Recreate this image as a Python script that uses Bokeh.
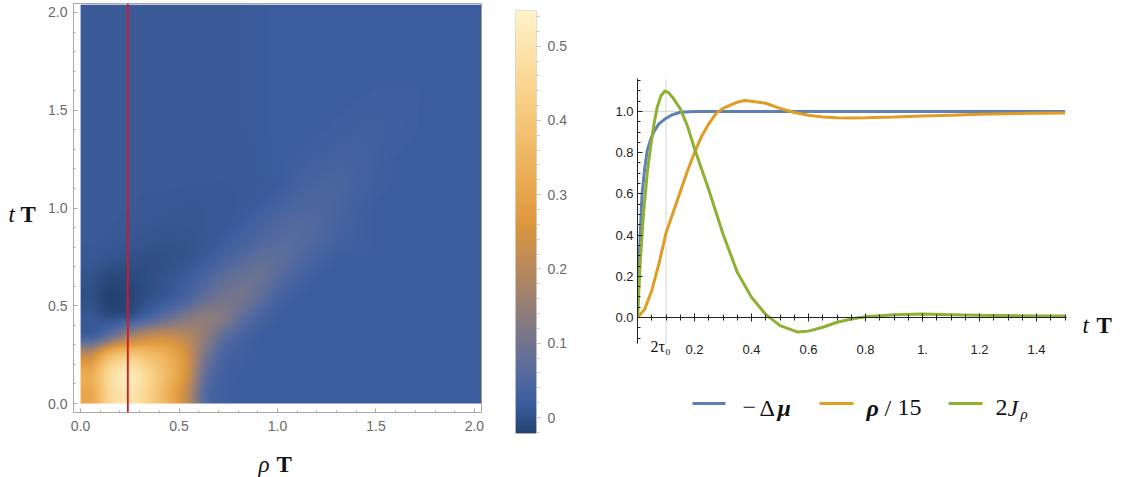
import numpy as np
from bokeh.plotting import figure
from bokeh.layouts import row, column
from bokeh.models import (LinearColorMapper, Span, Label, Range1d, FixedTicker,
                          PrintfTickFormatter, CustomJSTickFormatter, LinearAxis)
from bokeh.embed import file_html
from bokeh.resources import INLINE

# ---------------- data ----------------
# density map: rows from bottom (t ~ 0.05) to top (t ~ 2.0), columns rho ~ 0.05 .. 2.0 (step ~0.097)
heat_rho_max = 2.035
heat_t_max = 2.04
density_rows = [
    [0.30, 0.45, 0.50, 0.44, 0.34, 0.22, 0.06, 0.025, 0.02, 0.02, 0.02, 0.02, 0.02, 0.02, 0.02, 0.02, 0.02, 0.02, 0.02, 0.02, 0.02],
    [0.32, 0.46, 0.52, 0.45, 0.36, 0.25, 0.08, 0.03, 0.02, 0.02, 0.02, 0.02, 0.02, 0.02, 0.02, 0.02, 0.02, 0.02, 0.02, 0.02, 0.02],
    [0.22, 0.36, 0.41, 0.38, 0.33, 0.25, 0.11, 0.04, 0.025, 0.02, 0.02, 0.02, 0.02, 0.02, 0.02, 0.02, 0.02, 0.02, 0.02, 0.02, 0.02],
    [0.03, 0.09, 0.17, 0.22, 0.23, 0.20, 0.14, 0.07, 0.035, 0.02, 0.02, 0.02, 0.02, 0.02, 0.02, 0.02, 0.02, 0.02, 0.02, 0.02, 0.02],
    [0.012, 0.00, 0.01, 0.04, 0.08, 0.12, 0.14, 0.12, 0.07, 0.035, 0.02, 0.02, 0.02, 0.02, 0.02, 0.02, 0.02, 0.02, 0.02, 0.02, 0.02],
    [0.00, -0.02, -0.015, 0.00, 0.015, 0.04, 0.08, 0.10, 0.10, 0.065, 0.03, 0.02, 0.02, 0.02, 0.02, 0.02, 0.02, 0.02, 0.02, 0.02, 0.02],
    [0.003, -0.012, -0.01, -0.003, 0.005, 0.02, 0.045, 0.075, 0.09, 0.085, 0.055, 0.03, 0.02, 0.02, 0.02, 0.02, 0.02, 0.02, 0.02, 0.02, 0.02],
    [0.01, 0.003, 0.00, -0.003, 0.00, 0.005, 0.02, 0.04, 0.06, 0.078, 0.068, 0.048, 0.03, 0.02, 0.02, 0.02, 0.02, 0.02, 0.02, 0.02, 0.02],
    [0.015, 0.012, 0.008, 0.005, 0.003, 0.005, 0.01, 0.02, 0.035, 0.05, 0.062, 0.058, 0.045, 0.03, 0.025, 0.02, 0.02, 0.02, 0.02, 0.02, 0.02],
    [0.015, 0.015, 0.012, 0.01, 0.008, 0.008, 0.01, 0.013, 0.02, 0.035, 0.05, 0.056, 0.05, 0.035, 0.025, 0.02, 0.02, 0.02, 0.02, 0.02, 0.02],
    [0.015, 0.015, 0.015, 0.012, 0.012, 0.01, 0.01, 0.012, 0.015, 0.02, 0.033, 0.043, 0.047, 0.038, 0.028, 0.02, 0.02, 0.02, 0.02, 0.02, 0.02],
    [0.015, 0.015, 0.015, 0.015, 0.015, 0.014, 0.014, 0.014, 0.015, 0.016, 0.02, 0.032, 0.04, 0.04, 0.032, 0.024, 0.02, 0.02, 0.02, 0.02, 0.02],
    [0.015, 0.015, 0.015, 0.015, 0.015, 0.015, 0.015, 0.015, 0.015, 0.017, 0.02, 0.024, 0.031, 0.034, 0.031, 0.026, 0.02, 0.02, 0.02, 0.02, 0.02],
    [0.015, 0.015, 0.015, 0.015, 0.015, 0.015, 0.015, 0.015, 0.015, 0.017, 0.02, 0.02, 0.024, 0.029, 0.029, 0.026, 0.022, 0.02, 0.02, 0.02, 0.02],
    [0.015, 0.015, 0.015, 0.015, 0.015, 0.015, 0.015, 0.015, 0.016, 0.018, 0.02, 0.02, 0.02, 0.023, 0.026, 0.026, 0.024, 0.021, 0.02, 0.02, 0.02],
    [0.015, 0.015, 0.015, 0.015, 0.015, 0.015, 0.015, 0.015, 0.016, 0.018, 0.02, 0.02, 0.02, 0.02, 0.022, 0.024, 0.023, 0.021, 0.02, 0.02, 0.02],
    [0.015, 0.015, 0.015, 0.015, 0.015, 0.015, 0.015, 0.015, 0.016, 0.018, 0.02, 0.02, 0.02, 0.02, 0.02, 0.021, 0.021, 0.021, 0.02, 0.02, 0.02],
    [0.015, 0.015, 0.015, 0.015, 0.015, 0.015, 0.015, 0.015, 0.016, 0.018, 0.02, 0.02, 0.02, 0.02, 0.02, 0.02, 0.02, 0.02, 0.02, 0.02, 0.02],
    [0.015, 0.015, 0.015, 0.015, 0.015, 0.015, 0.015, 0.015, 0.016, 0.018, 0.02, 0.02, 0.02, 0.02, 0.02, 0.02, 0.02, 0.02, 0.02, 0.02, 0.02],
    [0.015, 0.015, 0.015, 0.015, 0.015, 0.015, 0.015, 0.015, 0.016, 0.018, 0.02, 0.02, 0.02, 0.02, 0.02, 0.02, 0.02, 0.02, 0.02, 0.02, 0.02],
    [0.015, 0.015, 0.015, 0.015, 0.015, 0.015, 0.015, 0.015, 0.016, 0.018, 0.02, 0.02, 0.02, 0.02, 0.02, 0.02, 0.02, 0.02, 0.02, 0.02, 0.02],
]
rho_cut = 0.24
value_low, value_high = -0.0215, 0.548
heat_xticks = [0.0, 0.5, 1.0, 1.5, 2.0]
heat_yticks = [0.0, 0.5, 1.0, 1.5, 2.0]
cbar_ticks = [0.0, 0.1, 0.2, 0.3, 0.4, 0.5]

# right panel series
t_mu = [0, 0.005, 0.01, 0.016, 0.025, 0.034, 0.045, 0.057, 0.075, 0.098, 0.12, 0.15, 0.2, 0.3, 0.5, 1.0, 1.5]
neg_dmu = [0, 0.25, 0.42, 0.60, 0.72, 0.81, 0.86, 0.90, 0.94, 0.965, 0.983, 0.996, 1.0, 1.0, 1.0, 1.0, 1.0]

t_rho = [0, 0.025, 0.05, 0.075, 0.1, 0.125, 0.15, 0.175, 0.2, 0.225, 0.25, 0.275, 0.3, 0.35,
         0.375, 0.4, 0.45, 0.5, 0.55, 0.6, 0.65, 0.7, 0.75, 0.8, 0.9, 1.0, 1.1, 1.2, 1.3, 1.4, 1.5]
rho_15 = [0, 0.04, 0.13, 0.26, 0.41, 0.51, 0.61, 0.71, 0.80, 0.88, 0.94, 0.99, 1.015, 1.045,
          1.053, 1.05, 1.04, 1.015, 0.995, 0.982, 0.973, 0.969, 0.968, 0.969, 0.973, 0.978, 0.982, 0.986, 0.989, 0.991, 0.993]

t_j = [0, 0.01, 0.022, 0.034, 0.046, 0.058, 0.069, 0.082, 0.096, 0.11, 0.125, 0.15, 0.175, 0.2, 0.25, 0.3, 0.35,
       0.4, 0.45, 0.5, 0.56, 0.6, 0.65, 0.7, 0.75, 0.8, 0.9, 1.0, 1.1, 1.2, 1.4, 1.5]
two_j = [0, 0.28, 0.52, 0.70, 0.83, 0.94, 1.02, 1.075, 1.10, 1.09, 1.065, 1.013, 0.93, 0.82, 0.62, 0.405, 0.22,
         0.098, 0.015, -0.039, -0.07, -0.066, -0.047, -0.023, -0.007, 0.004, 0.014, 0.017, 0.014, 0.011, 0.008, 0.007]

two_tau0 = 0.1
curve_xticks = [0.2, 0.4, 0.6, 0.8, 1.0, 1.2, 1.4]
curve_yticks = [0.0, 0.2, 0.4, 0.6, 0.8, 1.0]
curve_y_axis = (-0.126, 1.16)
series_colors = ["#5E81B5", "#E19C24", "#8FB032"]

# ---------------- colour map ----------------
anchor_vals = [-0.0215, 0.0, 0.02, 0.05, 0.08, 0.11, 0.15, 0.2, 0.26, 0.3, 0.37, 0.45, 0.548]
anchor_rgb = [(36, 66, 112), (49, 82, 138), (61, 94, 158), (80, 104, 160), (100, 112, 150),
              (122, 118, 138), (150, 126, 118), (184, 137, 92), (220, 150, 62), (232, 165, 75),
              (242, 188, 105), (250, 214, 145), (255, 243, 202)]
_vals = np.linspace(value_low, value_high, 256)
palette = []
for v in _vals:
    r = np.interp(v, anchor_vals, [c[0] for c in anchor_rgb])
    g = np.interp(v, anchor_vals, [c[1] for c in anchor_rgb])
    b = np.interp(v, anchor_vals, [c[2] for c in anchor_rgb])
    palette.append("#%02x%02x%02x" % (int(round(r)), int(round(g)), int(round(b))))
mapper = LinearColorMapper(palette=palette, low=value_low, high=value_high)


# display smoothing of the coarse grid (like a density plot's interpolation)
def _cubic_resample_matrix(n_in, n_out):
    W = np.zeros((n_out, n_in))
    for k in range(n_out):
        u = (k + 0.5) * n_in / n_out - 0.5
        u = min(max(u, 0.0), n_in - 1.0)
        i = int(np.floor(u))
        f = u - i
        cs = [-0.5 * f ** 3 + f ** 2 - 0.5 * f,
              1.5 * f ** 3 - 2.5 * f ** 2 + 1.0,
              -1.5 * f ** 3 + 2.0 * f ** 2 + 0.5 * f,
              0.5 * f ** 3 - 0.5 * f ** 2]
        for j, c in zip(range(i - 1, i + 3), cs):
            W[k, min(max(j, 0), n_in - 1)] += c
    return W


_grid = np.array(density_rows, dtype=float)
_ny, _nx = _grid.shape
_smooth = (_cubic_resample_matrix(_ny, 300) @ _grid @ _cubic_resample_matrix(_nx, 300).T).astype(np.float32)

SANS = "Liberation Sans"
SERIF = "Liberation Serif"
FRAME_GREY = "#A8A8A8"
LABEL_GREY = "#6A6A6A"


def text_fig(width, height, xr, yr):
    """Blank figure whose data coordinates equal page pixels (for free-standing text)."""
    f = figure(width=width, height=height, x_range=Range1d(*xr), y_range=Range1d(*yr),
               output_backend="svg", toolbar_location=None,
               title=None, x_axis_location=None, y_axis_location=None,
               min_border_left=0, min_border_right=0, min_border_top=0, min_border_bottom=0)
    f.grid.visible = False
    f.outline_line_color = None
    return f


def add_text(f, x, y, txt, style="normal", size="23px"):
    f.add_layout(Label(x=x, y=y, text=txt, text_font=SERIF, text_font_size=size,
                       text_font_style=style, text_baseline="alphabetic", text_color="#111111"))


# ---------------- "t T" label left of the density plot ----------------
pT = text_fig(40, 440, (0, 40), (440, 0))
add_text(pT, 8, 214, "t", "italic")
add_text(pT, 20, 214, "T", "bold")

# ---------------- left: density plot ----------------
pL = figure(width=460, height=440, x_range=Range1d(-0.036, 2.036), y_range=Range1d(-0.046, 2.046),
            output_backend="svg", toolbar_location=None, title=None,
            min_border_left=33, min_border_right=19, min_border_top=3, min_border_bottom=28)
pL.grid.visible = False
pL.outline_line_color = FRAME_GREY
pL.image(image=[_smooth], x=0, y=0, dw=heat_rho_max, dh=heat_t_max, color_mapper=mapper)
pL.add_layout(Span(location=rho_cut, dimension="height", line_color="#E0141E", line_width=1.8))

pL.xaxis.ticker = FixedTicker(ticks=heat_xticks, minor_ticks=[i / 10 for i in range(0, 21)])
pL.yaxis.ticker = FixedTicker(ticks=heat_yticks, minor_ticks=[i / 10 for i in range(0, 21)])
for ax in (pL.xaxis[0], pL.yaxis[0]):
    ax.formatter = PrintfTickFormatter(format="%.1f")
    ax.axis_line_color = FRAME_GREY
    ax.major_tick_line_color = FRAME_GREY
    ax.minor_tick_line_color = FRAME_GREY
    ax.major_tick_in = 4
    ax.major_tick_out = 0
    ax.minor_tick_in = 2
    ax.minor_tick_out = 0
    ax.major_label_text_font = SANS
    ax.major_label_text_font_size = "14px"
    ax.major_label_text_color = LABEL_GREY
pL.xaxis.major_label_standoff = 8
pL.yaxis.major_label_standoff = 6

# "ρ T" label under the density plot (its frame is aligned with the density plot frame: x 73..481)
pRho = text_fig(460, 37, (73, 481), (477, 440))
add_text(pRho, 258, 464, "ρ", "italic")
add_text(pRho, 276, 464, "T", "bold")

# ---------------- colour bar ----------------
pC = figure(width=100, height=461, x_range=Range1d(0, 1), y_range=Range1d(value_low, value_high),
            output_backend="svg", toolbar_location=None, title=None,
            x_axis_location=None, y_axis_location=None,
            min_border_left=15, min_border_right=64, min_border_top=10, min_border_bottom=28)
pC.grid.visible = False
pC.outline_line_color = "#D8D8D8"
pC.image(image=[_vals.reshape(256, 1)], x=0, y=value_low, dw=1, dh=value_high - value_low,
         color_mapper=mapper)
axC = LinearAxis(ticker=FixedTicker(ticks=cbar_ticks, minor_ticks=[round(-0.02 + 0.02 * i, 2) for i in range(29)]))
axC.formatter = CustomJSTickFormatter(code="return tick == 0 ? '0' : tick.toFixed(1);")
axC.axis_line_color = None
axC.major_tick_line_color = "#B0B0B0"
axC.minor_tick_line_color = "#C8C8C8"
axC.major_tick_in = 0
axC.major_tick_out = 4
axC.minor_tick_in = 0
axC.minor_tick_out = 3
axC.major_label_text_font = SANS
axC.major_label_text_font_size = "14px"
axC.major_label_text_color = LABEL_GREY
axC.major_label_standoff = 7
pC.add_layout(axC, "right")

# ---------------- right: time curves (frame also holds the legend) ----------------
# frame: page x 637..1125 (t = 0 .. 1.712), page y 78..425 (value 1.16 .. -0.524)
t_end = max(t_mu)
pR = figure(width=530, height=475, x_range=Range1d(0, 1.712), y_range=Range1d(-0.524, 1.16),
            output_backend="svg", toolbar_location=None, title=None,
            min_border_left=37, min_border_right=5, min_border_top=78, min_border_bottom=50)
pR.grid.visible = False
pR.outline_line_color = None


def px_t(px):      # page pixel -> t (right panel)
    return (px - 637) / 285.0


def py_v(py):      # page pixel -> value (right panel)
    return (317 - py) / 206.0


# light grid lines at 2τ0 and at 1
pR.segment(x0=[two_tau0, 0], y0=[curve_y_axis[0], 1.0], x1=[two_tau0, t_end], y1=[curve_y_axis[1], 1.0],
           line_color="#DADADA", line_width=1.2)

pR.line(t_mu, neg_dmu, line_color=series_colors[0], line_width=3)
pR.line(t_rho, rho_15, line_color=series_colors[1], line_width=3)
pR.line(t_j, two_j, line_color=series_colors[2], line_width=3)

xa = pR.xaxis[0]
xa.fixed_location = 0
xa.bounds = (0, 1.505)
xa.ticker = FixedTicker(ticks=curve_xticks, minor_ticks=[round(0.05 * i, 2) for i in range(0, 31)])
xa.formatter = CustomJSTickFormatter(
    code="if (Math.abs(tick - 1) < 1e-9) return '1.'; return tick.toFixed(1);")
xa.major_tick_in = 4
xa.major_tick_out = 4
xa.minor_tick_in = 3
xa.minor_tick_out = 3
xa.major_label_standoff = 23

ya = pR.yaxis[0]
ya.bounds = curve_y_axis
ya.ticker = FixedTicker(ticks=curve_yticks, minor_ticks=[round(-0.1 + 0.05 * i, 2) for i in range(0, 26)])
ya.formatter = PrintfTickFormatter(format="%.1f")
ya.major_tick_in = 5
ya.major_tick_out = 0
ya.minor_tick_in = 3
ya.minor_tick_out = 0
ya.major_label_standoff = 4
for ax in (xa, ya):
    ax.axis_line_color = "#222222"
    ax.major_tick_line_color = "#222222"
    ax.minor_tick_line_color = "#222222"
    ax.major_label_text_font = SANS
    ax.major_label_text_font_size = "13px"
    ax.major_label_text_color = "#222222"


def add_text_R(px, py, txt, style="normal", size="23px"):
    pR.add_layout(Label(x=px_t(px), y=py_v(py), text=txt, text_font=SERIF, text_font_size=size,
                        text_font_style=style, text_baseline="alphabetic", text_color="#111111"))


add_text_R(650, 346, "2τ₀", "normal", "16px")
add_text_R(1082, 325, "t", "italic")
add_text_R(1096, 325, "T", "bold")

# legend
pR.segment(x0=[px_t(692), px_t(819), px_t(948)], y0=[py_v(403)] * 3,
           x1=[px_t(725), px_t(853), px_t(982)], y1=[py_v(403)] * 3,
           line_color=series_colors, line_width=3)
for xx, yy, txt, style, size in [
    (742, 407, "−", "normal", "24px"),
    (759, 407, "Δ", "normal", "24px"),
    (777, 407, "μ", "bold italic", "24px"),
    (866, 407, "ρ", "bold italic", "24px"),
    (884, 407, "/", "normal", "24px"),
    (897, 407, "15", "normal", "24px"),
    (995, 407, "2", "normal", "24px"),
    (1007, 407, "J", "italic", "24px"),
    (1020, 413, "ρ", "italic", "15px"),
]:
    add_text_R(xx, yy, txt, style, size)

layout = row(column(pT), column(pL, pRho), column(pC), column(pR))
open("out.html", "w").write(file_html(layout, INLINE))
